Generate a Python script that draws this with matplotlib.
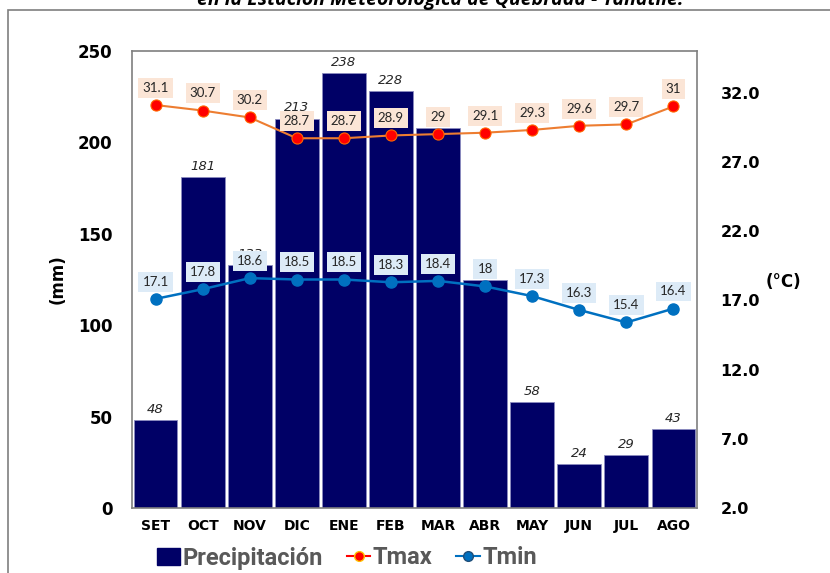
import numpy as np
import matplotlib
matplotlib.use("Agg")
import matplotlib.pyplot as plt
from matplotlib.lines import Line2D
from matplotlib.patches import Patch, Rectangle

# data
months = ["SET", "OCT", "NOV", "DIC", "ENE", "FEB", "MAR", "ABR", "MAY", "JUN", "JUL", "AGO"]
precip = [48, 181, 133, 213, 238, 228, 208, 125, 58, 24, 29, 43]
tmax = [31.1, 30.7, 30.2, 28.7, 28.7, 28.9, 29.0, 29.1, 29.3, 29.6, 29.7, 31.0]
tmin = [17.1, 17.8, 18.6, 18.5, 18.5, 18.3, 18.4, 18.0, 17.3, 16.3, 15.4, 16.4]
tmax_labels = ["31.1", "30.7", "30.2", "28.7", "28.7", "28.9", "29", "29.1", "29.3", "29.6", "29.7", "31"]
tmin_labels = ["17.1", "17.8", "18.6", "18.5", "18.5", "18.3", "18.4", "18", "17.3", "16.3", "15.4", "16.4"]

bar_color = "#000066"
tmax_line = "#ED7D31"
tmin_line = "#0070C0"

fig = plt.figure(figsize=(8.3, 5.73), dpi=100)

# outer frame (partially cut like the source image)
fig.patches.append(Rectangle((8 / 830, -0.01), 1.0, 1 - 10 / 573 + 0.01, transform=fig.transFigure,
                             fill=False, edgecolor="#7f7f7f", linewidth=1.2))
fig.text(0.53, 1.0, "en la Estación Meteorológica de Quebrada - Yanatile.", ha="center", va="center",
         fontsize=14, fontweight="bold", fontstyle="italic", family="Open Sans")

ax = fig.add_axes([132 / 830, 1 - 508 / 573, 565 / 830, 457 / 573])
x = np.arange(len(months))

bars = ax.bar(x, precip, width=0.93, color=bar_color, edgecolor="#8c8cc0", linewidth=0.6, zorder=2)
ax.set_xlim(-0.5, len(months) - 0.5)
ax.set_ylim(0, 250)
ax.set_yticks([0, 50, 100, 150, 200, 250])
ax.set_xticks(x)
ax.set_xticklabels(months)
for lab in ax.get_xticklabels():
    lab.set_fontweight("bold")
    lab.set_fontsize(10)
for lab in ax.get_yticklabels():
    lab.set_fontweight("bold")
    lab.set_fontsize(12)
ax.tick_params(axis="both", length=0)
ax.tick_params(axis="y", pad=14)
ax.tick_params(axis="x", pad=8)
ax.set_ylabel("(mm)", fontsize=12, fontweight="bold", labelpad=8)
for s in ax.spines.values():
    s.set_color("#7f7f7f")
    s.set_linewidth(1.2)

for xi, v in zip(x, precip):
    ax.annotate(str(v), (xi, v), xytext=(0, 3), textcoords="offset points", ha="center", va="bottom",
                fontsize=9.5, fontstyle="italic", color="#262626", zorder=3)

ax2 = ax.twinx()
ax2.set_ylim(2, 35)
ax2.set_yticks([2, 7, 12, 17, 22, 27, 32])
ax2.set_yticklabels([f"{t:.1f}" for t in [2, 7, 12, 17, 22, 27, 32]], fontweight="bold", fontsize=11.5)
ax2.tick_params(axis="y", length=0, pad=17)
for s in ax2.spines.values():
    s.set_visible(False)

ax2.plot(x, tmax, color=tmax_line, linewidth=1.5, marker="o", markersize=8,
         markerfacecolor="#FF0000", markeredgecolor="#FF6600", markeredgewidth=0.8, zorder=4)
ax2.plot(x, tmin, color=tmin_line, linewidth=1.8, marker="o", markersize=8,
         markerfacecolor=tmin_line, markeredgecolor=tmin_line, zorder=4)

for xi, v, lab in zip(x, tmax, tmax_labels):
    ax2.annotate(lab, (xi, v), xytext=(0, 8), textcoords="offset points", ha="center", va="bottom",
                 fontsize=9.5, family="Lato", color="#262626", zorder=5,
                 bbox=dict(boxstyle="square,pad=0.3", facecolor="#FBE5D6", edgecolor="none"))
for xi, v, lab in zip(x, tmin, tmin_labels):
    ax2.annotate(lab, (xi, v), xytext=(0, 8), textcoords="offset points", ha="center", va="bottom",
                 fontsize=9.5, family="Lato", color="#262626", zorder=5,
                 bbox=dict(boxstyle="square,pad=0.3", facecolor="#DDEBF7", edgecolor="none"))

fig.text(783 / 830, 1 - 282 / 573, "(°C)", ha="center", va="center", fontsize=12, fontweight="bold")

handles = [
    Patch(facecolor=bar_color, edgecolor=bar_color),
    Line2D([], [], color="#FF0000", linewidth=1.5, marker="o", markersize=7,
           markerfacecolor="#FF0000", markeredgecolor="#FFC000"),
    Line2D([], [], color=tmin_line, linewidth=1.5, marker="o", markersize=7,
           markerfacecolor=tmin_line, markeredgecolor="#1F4E79"),
]
leg = fig.legend(handles, ["Precipitación", "Tmax", "Tmin"], loc="center left",
                 bbox_to_anchor=(145 / 830, 1 - 558 / 573), ncol=3, frameon=False,
                 prop=dict(family="Roboto", weight="bold", size=17), handlelength=1.0,
                 handletextpad=0.1, columnspacing=1.0, borderpad=0)
for t in leg.get_texts():
    t.set_color("#595959")

fig.savefig("out.png", dpi=100)
